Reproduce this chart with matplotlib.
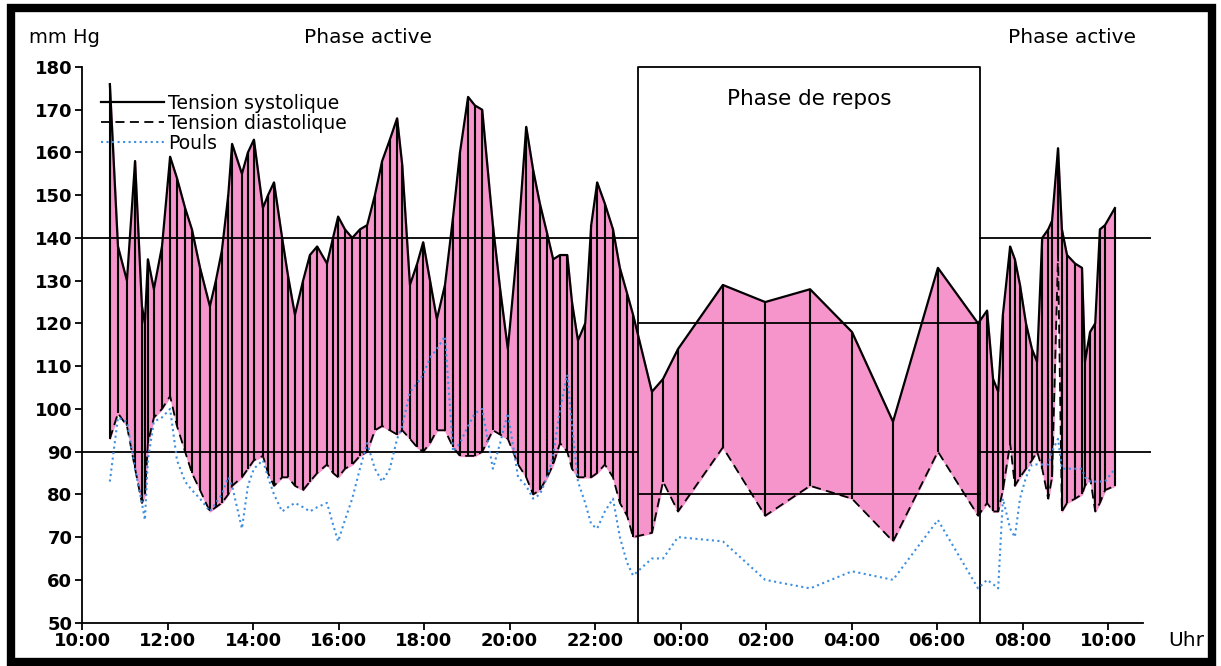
import matplotlib
matplotlib.use("Agg")
import matplotlib.pyplot as plt
from matplotlib.patches import Rectangle

plt.rcParams['font.family'] = ['DejaVu Sans']

# Measurement times in hours from 10:00 (values > 24 are the next morning)
times = [10.65, 10.84, 11.05, 11.24, 11.40, 11.47, 11.54, 11.68, 11.87, 12.06,
         12.22, 12.41, 12.57, 12.76, 12.99, 13.13, 13.27, 13.42, 13.51, 13.74,
         13.88, 14.02, 14.23, 14.35, 14.49, 14.68, 14.82, 14.98, 15.17, 15.33,
         15.50, 15.73, 15.87, 15.99, 16.15, 16.32, 16.50, 16.67, 16.85, 17.02,
         17.20, 17.37, 17.49, 17.67, 17.84, 17.98, 18.14, 18.30, 18.49, 18.68,
         18.84, 19.03, 19.19, 19.36, 19.61, 19.78, 19.96, 20.20, 20.39, 20.55,
         20.71, 20.88, 21.02, 21.18, 21.35, 21.46, 21.60, 21.77, 21.91, 22.05,
         22.23, 22.42, 22.58, 22.75, 22.89,
         23.33, 23.59, 23.94, 24.99, 25.98, 27.03, 28.01, 28.97, 30.02, 30.96,
         31.17, 31.31, 31.43, 31.54, 31.71, 31.82, 31.94, 32.08, 32.22, 32.34,
         32.46, 32.60, 32.69, 32.83, 32.92, 33.04, 33.23, 33.39, 33.46, 33.58,
         33.70, 33.81, 33.93, 34.16]

systolic = [176, 138, 130, 158, 124, 120, 135, 128, 138, 159,
            154, 147, 142, 133, 124, 130, 137, 150, 162, 155,
            160, 163, 147, 150, 153, 140, 131, 122, 130, 136,
            138, 134, 140, 145, 142, 140, 142, 143, 150, 158,
            163, 168, 157, 129, 134, 139, 130, 121, 129, 145,
            160, 173, 171, 170, 143, 128, 114, 140, 166, 156,
            148, 141, 135, 136, 136, 125, 116, 120, 143, 153,
            148, 142, 133, 127, 122,
            104, 107, 114, 129, 125, 128, 118, 97, 133, 120,
            123, 107, 104, 122, 138, 135, 129, 120, 114, 111,
            140, 142, 144, 161, 142, 136, 134, 133, 111, 118,
            120, 142, 143, 147]

diastolic = [93, 99, 96, 86, 78, 80, 92, 98, 100, 103,
             96, 90, 85, 81, 76, 77, 78, 80, 82, 84,
             86, 88, 89, 85, 82, 84, 84, 82, 81, 83,
             85, 87, 85, 84, 86, 87, 89, 90, 95, 96,
             95, 94, 95, 93, 91, 90, 92, 95, 95, 91,
             89, 89, 89, 90, 95, 94, 93, 87, 84, 80,
             81, 84, 87, 92, 90, 86, 84, 84, 84, 85,
             87, 84, 78, 75, 70,
             71, 83, 76, 91, 75, 82, 79, 69, 90, 75,
             78, 76, 76, 81, 92, 82, 84, 86, 88, 90,
             86, 79, 84, 136, 76, 78, 79, 80, 82, 84,
             76, 78, 81, 82]

pulse = [83, 98, 97, 86, 78, 74, 88, 97, 98, 100,
         88, 83, 81, 79, 76, 78, 80, 84, 82, 72,
         82, 86, 88, 84, 80, 76, 77, 78, 77, 76,
         77, 78, 73, 69, 74, 79, 86, 92, 86, 83,
         86, 93, 96, 104, 106, 108, 112, 114, 117, 90,
         92, 96, 99, 100, 86, 92, 99, 84, 82, 79,
         80, 84, 89, 100, 108, 96, 83, 78, 73, 72,
         76, 79, 70, 64, 61,
         65, 65, 70, 69, 60, 58, 62, 60, 74, 58,
         60, 59, 58, 79, 72, 70, 79, 84, 87, 87,
         87, 87, 90, 93, 86, 86, 86, 86, 84, 83,
         83, 83, 83, 86]

# reference limits: day 140/90, night 120/80
limit_x = [10, 23, 23, 31, 31, 35]
limit_sys = [140, 140, 120, 120, 140, 140]
limit_dia = [90, 90, 80, 80, 90, 90]

tick_hours = [10, 12, 14, 16, 18, 20, 22, 24, 26, 28, 30, 32, 34]
tick_labels = ['10:00', '12:00', '14:00', '16:00', '18:00', '20:00', '22:00',
               '00:00', '02:00', '04:00', '06:00', '08:00', '10:00']

fig = plt.figure(figsize=(12.21, 6.66), dpi=100)
ax = fig.add_axes([0.0672, 0.0652, 0.8753, 0.8342])

ax.fill_between(times, diastolic, systolic, color='#f595cb', zorder=1)
ax.vlines(times, diastolic, systolic, color='black', linewidth=1.5, zorder=2)
ax.plot(times, systolic, color='black', linewidth=1.6, zorder=3,
        label='Tension systolique')
ax.plot(times, diastolic, color='black', linewidth=1.3, linestyle=(0, (5, 3)),
        zorder=3, label='Tension diastolique')
ax.plot(times, pulse, color='#3d8fe0', linewidth=1.5, linestyle=':',
        zorder=5, label='Pouls')

# limit lines (segments so the step is open at the phase boundaries)
for i in range(0, len(limit_x), 2):
    ax.plot(limit_x[i:i + 2], limit_sys[i:i + 2], color='black', linewidth=1.3, zorder=4)
    ax.plot(limit_x[i:i + 2], limit_dia[i:i + 2], color='black', linewidth=1.3, zorder=4)

# rest phase box
ax.plot([23, 23, 31, 31], [50, 180, 180, 50], color='black', linewidth=1.3,
        zorder=4, clip_on=False)
ax.text(27, 172.5, 'Phase de repos', ha='center', va='center', fontsize=15.5)

ax.set_xlim(10, 35)
ax.set_ylim(50, 180)
ax.set_xticks(tick_hours)
ax.set_xticklabels(tick_labels)
ax.set_yticks(range(50, 181, 10))
ax.tick_params(labelsize=13, width=1.3, length=5, pad=2)
for lab in ax.get_xticklabels() + ax.get_yticklabels():
    lab.set_fontweight('bold')

ax.spines['top'].set_visible(False)
ax.spines['right'].set_visible(False)
ax.spines['left'].set_linewidth(1.3)
ax.spines['bottom'].set_linewidth(1.3)
ax.spines['bottom'].set_bounds(10, 34.82)

ax.text(8.75, 186.8, 'mm Hg', ha='left', va='center', fontsize=14,
        clip_on=False)
ax.text(16.7, 186.8, 'Phase active', ha='center', va='center', fontsize=14.5,
        clip_on=False)
ax.text(33.15, 186.8, 'Phase active', ha='center', va='center', fontsize=14.5,
        clip_on=False)
ax.text(35.4, 45.7, 'Uhr', ha='left', va='center', fontsize=14.5, clip_on=False)

ax.legend(loc='upper left', bbox_to_anchor=(0.005, 0.975), frameon=False,
          fontsize=13.5, handlelength=3.4, handletextpad=0.2, labelspacing=0.05,
          borderpad=0.2)

# black frame around the whole picture
fig.patches.append(Rectangle((0.009, 0.006), 0.9836, 0.982, transform=fig.transFigure,
                             fill=False, edgecolor='black', linewidth=6))

fig.savefig('out.png', dpi=100)
